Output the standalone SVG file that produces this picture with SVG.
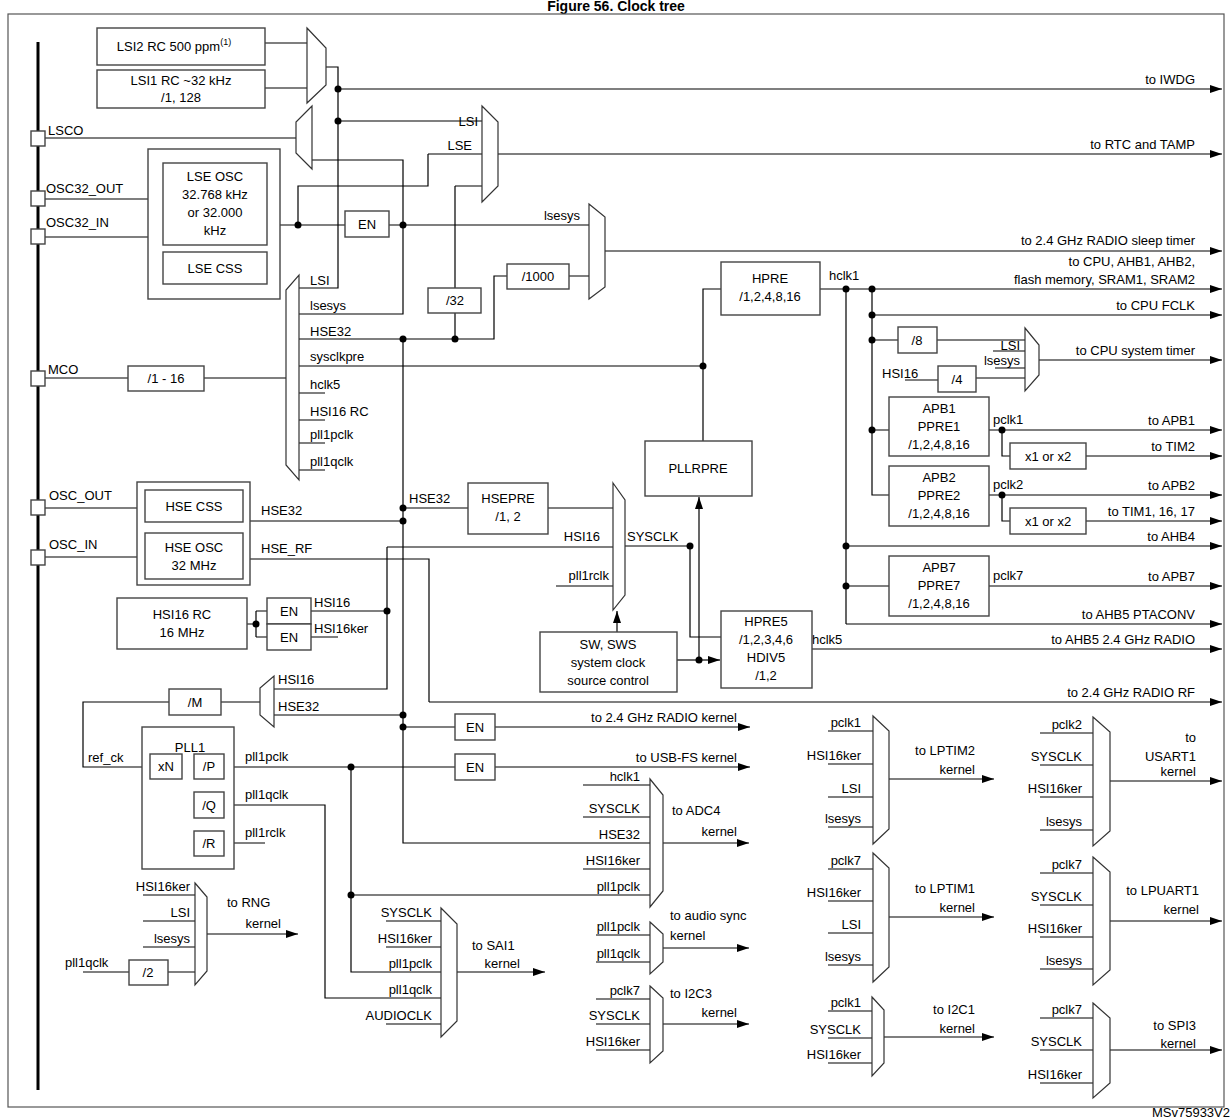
<svg xmlns="http://www.w3.org/2000/svg" width="1232" height="1120" viewBox="0 0 1232 1120">
<defs>
<marker id="ar" viewBox="0 0 12 8" refX="12" refY="4" markerWidth="12" markerHeight="8" markerUnits="userSpaceOnUse" orient="auto"><path d="M0,0L12,4L0,8z" fill="#000"/></marker>
<style>
.w{stroke:#000;stroke-width:1.2;fill:none}
.a{stroke:#000;stroke-width:1.2;fill:none;marker-end:url(#ar)}
.b{stroke:#444;stroke-width:1.4;fill:#fff}
.m{stroke:#333;stroke-width:1.2;fill:#fff}
.d{fill:#000}
text{font-family:"Liberation Sans",Arial,sans-serif;font-size:13px;fill:#000}
.e{text-anchor:end}
.c{text-anchor:middle}
</style>
</defs>
<rect width="1232" height="1120" fill="#fff"/>
<text x="616" y="11" class="c" style="font-weight:bold;font-size:14px">Figure 56. Clock tree</text>
<rect x="8" y="14" width="1216" height="1093" fill="none" stroke="#555" stroke-width="1.2"/>
<line x1="38" y1="42" x2="38" y2="1090" stroke="#000" stroke-width="3"/>

<g id="connectors">
<path class="w" d="M265,43H307M265,88H307M326,67H338V288H299"/>
<path class="a" d="M338,89H1222"/>
<path class="w" d="M338,121H482M45,138H296M312,160H403V314H299M403,339V843H650"/>
<path class="w" d="M428,154H482M428,154V186H298V225M455,186H482M455,186V288M455,313V339M299,339H494V276H507M569,276H589"/>
<path class="a" d="M498,154H1222"/>
<path class="w" d="M45,199H148M45,237H148M280,225H345M389,225H589"/>
<path class="a" d="M605,251H1222"/>
<path class="w" d="M45,378H128M204,378H286M299,366H703M299,393H325M299,420H325M299,443H325M299,470H325"/>
<path class="w" d="M703,441V289H721"/>
<path class="a" d="M820,289H1222"/>
<path class="a" d="M872,315H1222"/>
<path class="w" d="M872,289V495H889M872,340H898M937,340H1025M993,351H1025M995,368H1025M905,380H938M976,378H1025M872,430H889"/>
<path class="a" d="M1039,360H1222"/>
<path class="a" d="M989,430H1222"/>
<path class="w" d="M1002,430V456H1010"/>
<path class="a" d="M1086,456H1222"/>
<path class="a" d="M989,495H1222"/>
<path class="w" d="M1002,495V521H1010"/>
<path class="a" d="M1086,521H1222"/>
<path class="w" d="M846,289V624M846,586H889"/>
<path class="a" d="M846,546H1222"/>
<path class="a" d="M989,586H1222"/>
<path class="a" d="M846,624H1222"/>
<path class="a" d="M812,649H1222"/>
<path class="w" d="M45,508H137M45,557H137M250,521H403M403,508H468M548,508H613M387,547H613M556,586H613M625,546H690V637H721"/>
<path class="w" d="M250,559H429V702"/>
<path class="a" d="M429,702H1222"/>
<path class="a" d="M617,632V611"/>
<path class="a" d="M699,660V497"/>
<path class="w" d="M677,660H699"/>
<path class="a" d="M699,660H720"/>
<path class="w" d="M247,624H256M256,611V637M256,611H267M256,637H267M311,611H387M387,547V689H274M311,637H338M403,715H274M260,702H221M169,702H83V767H150M182,767H194M188,767V843H194M188,805H194"/>
<path class="w" d="M403,727H455"/>
<path class="a" d="M495,727H750"/>
<path class="w" d="M224,767H455"/>
<path class="a" d="M495,767H750"/>
<path class="w" d="M224,805H325V998H441M224,843H265M351,767V972H441M351,895H650M583,785H650M583,817H650M583,869H650"/>
<path class="a" d="M663,843H749"/>
<path class="w" d="M143,895H195M143,921H195M143,947H195M83,972H129M168,972H195"/>
<path class="a" d="M207,934H298"/>
<path class="w" d="M386,921H441M386,947H441M386,1024H441"/>
<path class="a" d="M457,972H545"/>
<path class="w" d="M596,935H650M596,962H650"/>
<path class="a" d="M663,948H749"/>
<path class="w" d="M596,999H650M596,1024H650M596,1050H650"/>
<path class="a" d="M663,1024H749"/>
<path class="w" d="M828,731H873M828,764H873M828,797H873M828,827H873"/>
<path class="a" d="M889,779H994"/>
<path class="w" d="M1040,733H1093M1040,765H1093M1040,797H1093M1040,830H1093"/>
<path class="a" d="M1110,781H1222"/>
<path class="w" d="M828,869H873M828,901H873M828,933H873M828,965H873"/>
<path class="a" d="M889,917H994"/>
<path class="w" d="M1040,873H1093M1040,905H1093M1040,937H1093M1040,969H1093"/>
<path class="a" d="M1110,921H1222"/>
<path class="w" d="M828,1011H872M828,1038H872M828,1063H872"/>
<path class="a" d="M884,1037H994"/>
<path class="w" d="M1040,1018H1093M1040,1050H1093M1040,1083H1093"/>
<path class="a" d="M1110,1050H1222"/>
<g class="d">
<circle cx="338" cy="89" r="3.5"/><circle cx="338" cy="121" r="3.5"/><circle cx="298" cy="225" r="3.5"/><circle cx="403" cy="225" r="3.5"/>
<circle cx="403" cy="339" r="3.5"/><circle cx="455" cy="339" r="3.5"/><circle cx="703" cy="366" r="3.5"/>
<circle cx="846" cy="289" r="3.5"/><circle cx="872" cy="289" r="3.5"/><circle cx="872" cy="315" r="3.5"/><circle cx="872" cy="340" r="3.5"/><circle cx="872" cy="430" r="3.5"/>
<circle cx="1002" cy="430" r="3.5"/><circle cx="1002" cy="495" r="3.5"/><circle cx="846" cy="546" r="3.5"/><circle cx="846" cy="586" r="3.5"/>
<circle cx="403" cy="508" r="3.5"/><circle cx="403" cy="521" r="3.5"/><circle cx="690" cy="546" r="3.5"/><circle cx="699" cy="660" r="3.5"/>
<circle cx="387" cy="611" r="3.5"/><circle cx="256" cy="624" r="3.5"/><circle cx="403" cy="715" r="3.5"/><circle cx="403" cy="727" r="3.5"/>
<circle cx="188" cy="767" r="3.5"/><circle cx="188" cy="805" r="3.5"/><circle cx="351" cy="767" r="3.5"/><circle cx="351" cy="895" r="3.5"/>
</g>
<text x="1195" y="84" class="e">to IWDG</text>
<text x="1195" y="149" class="e">to RTC and TAMP</text>
<text x="1195" y="245" class="e">to 2.4 GHz RADIO sleep timer</text>
<text x="1195" y="266" class="e">to CPU, AHB1, AHB2,</text>
<text x="1195" y="284" class="e">flash memory, SRAM1, SRAM2</text>
<text x="1195" y="310" class="e">to CPU FCLK</text>
<text x="1195" y="355" class="e">to CPU system timer</text>
<text x="1195" y="425" class="e">to APB1</text>
<text x="1195" y="451" class="e">to TIM2</text>
<text x="1195" y="490" class="e">to APB2</text>
<text x="1195" y="516" class="e">to TIM1, 16, 17</text>
<text x="1195" y="541" class="e">to AHB4</text>
<text x="1195" y="581" class="e">to APB7</text>
<text x="1195" y="619" class="e">to AHB5 PTACONV</text>
<text x="1195" y="644" class="e">to AHB5 2.4 GHz RADIO</text>
<text x="1195" y="697" class="e">to 2.4 GHz RADIO RF</text>
<text x="737" y="722" class="e">to 2.4 GHz RADIO kernel</text>
<text x="737" y="762" class="e">to USB-FS kernel</text>
<text x="478" y="126" class="e">LSI</text>
<text x="472" y="150" class="e">LSE</text>
<text x="580" y="220" class="e">lsesys</text>
<text x="310" y="285">LSI</text>
<text x="310" y="310">lsesys</text>
<text x="310" y="336">HSE32</text>
<text x="310" y="361">sysclkpre</text>
<text x="310" y="389">hclk5</text>
<text x="310" y="416">HSI16 RC</text>
<text x="310" y="439">pll1pclk</text>
<text x="310" y="466">pll1qclk</text>
<text x="829" y="280">hclk1</text>
<text x="1020" y="350" class="e">LSI</text>
<text x="1020" y="365" class="e">lsesys</text>
<text x="882" y="378">HSI16</text>
<text x="993" y="424">pclk1</text>
<text x="993" y="489">pclk2</text>
<text x="993" y="580">pclk7</text>
<text x="812" y="644">hclk5</text>
<text x="261" y="515">HSE32</text>
<text x="261" y="553">HSE_RF</text>
<text x="409" y="503">HSE32</text>
<text x="600" y="541" class="e">HSI16</text>
<text x="627" y="541">SYSCLK</text>
<text x="609" y="580" class="e">pll1rclk</text>
<text x="314" y="607">HSI16</text>
<text x="314" y="633">HSI16ker</text>
<text x="278" y="684">HSI16</text>
<text x="278" y="711">HSE32</text>
<text x="88" y="762">ref_ck</text>
<text x="245" y="761">pll1pclk</text>
<text x="245" y="799">pll1qclk</text>
<text x="245" y="837">pll1rclk</text>
<text x="640" y="781" class="e">hclk1</text>
<text x="640" y="813" class="e">SYSCLK</text>
<text x="640" y="839" class="e">HSE32</text>
<text x="640" y="865" class="e">HSI16ker</text>
<text x="640" y="891" class="e">pll1pclk</text>
<text x="672" y="815">to ADC4</text>
<text x="737" y="836" class="e">kernel</text>
<text x="190" y="891" class="e">HSI16ker</text>
<text x="190" y="917" class="e">LSI</text>
<text x="190" y="943" class="e">lsesys</text>
<text x="65" y="967">pll1qclk</text>
<text x="227" y="907">to RNG</text>
<text x="281" y="928" class="e">kernel</text>
<text x="432" y="917" class="e">SYSCLK</text>
<text x="432" y="943" class="e">HSI16ker</text>
<text x="432" y="968" class="e">pll1pclk</text>
<text x="432" y="994" class="e">pll1qclk</text>
<text x="432" y="1020" class="e">AUDIOCLK</text>
<text x="472" y="950">to SAI1</text>
<text x="520" y="968" class="e">kernel</text>
<text x="640" y="931" class="e">pll1pclk</text>
<text x="640" y="958" class="e">pll1qclk</text>
<text x="670" y="920">to audio sync</text>
<text x="670" y="940">kernel</text>
<text x="640" y="995" class="e">pclk7</text>
<text x="640" y="1020" class="e">SYSCLK</text>
<text x="640" y="1046" class="e">HSI16ker</text>
<text x="670" y="998">to I2C3</text>
<text x="737" y="1017" class="e">kernel</text>
<text x="861" y="727" class="e">pclk1</text>
<text x="861" y="760" class="e">HSI16ker</text>
<text x="861" y="793" class="e">LSI</text>
<text x="861" y="823" class="e">lsesys</text>
<text x="975" y="755" class="e">to LPTIM2</text>
<text x="975" y="774" class="e">kernel</text>
<text x="1082" y="729" class="e">pclk2</text>
<text x="1082" y="761" class="e">SYSCLK</text>
<text x="1082" y="793" class="e">HSI16ker</text>
<text x="1082" y="826" class="e">lsesys</text>
<text x="1196" y="742" class="e">to</text>
<text x="1196" y="761" class="e">USART1</text>
<text x="1196" y="776" class="e">kernel</text>
<text x="861" y="865" class="e">pclk7</text>
<text x="861" y="897" class="e">HSI16ker</text>
<text x="861" y="929" class="e">LSI</text>
<text x="861" y="961" class="e">lsesys</text>
<text x="975" y="893" class="e">to LPTIM1</text>
<text x="975" y="912" class="e">kernel</text>
<text x="1082" y="869" class="e">pclk7</text>
<text x="1082" y="901" class="e">SYSCLK</text>
<text x="1082" y="933" class="e">HSI16ker</text>
<text x="1082" y="965" class="e">lsesys</text>
<text x="1199" y="895" class="e">to LPUART1</text>
<text x="1199" y="914" class="e">kernel</text>
<text x="861" y="1007" class="e">pclk1</text>
<text x="861" y="1034" class="e">SYSCLK</text>
<text x="861" y="1059" class="e">HSI16ker</text>
<text x="975" y="1014" class="e">to I2C1</text>
<text x="975" y="1033" class="e">kernel</text>
<text x="1082" y="1014" class="e">pclk7</text>
<text x="1082" y="1046" class="e">SYSCLK</text>
<text x="1082" y="1079" class="e">HSI16ker</text>
<text x="1196" y="1030" class="e">to SPI3</text>
<text x="1196" y="1048" class="e">kernel</text>
</g>

<g id="pins">
<rect class="b" x="31" y="131" width="14" height="15"/><text x="48" y="135">LSCO</text>
<rect class="b" x="31" y="191" width="14" height="15"/><text x="46" y="193">OSC32_OUT</text>
<rect class="b" x="31" y="229" width="14" height="15"/><text x="46" y="227">OSC32_IN</text>
<rect class="b" x="31" y="371" width="14" height="15"/><text x="48" y="374">MCO</text>
<rect class="b" x="31" y="500" width="14" height="15"/><text x="49" y="500">OSC_OUT</text>
<rect class="b" x="31" y="550" width="14" height="15"/><text x="49" y="549">OSC_IN</text>
</g>
<g id="lsi2"><rect class="b" x="97" y="28" width="168" height="37"/><text x="174" y="51" class="c">LSI2 RC 500 ppm<tspan dy="-6" font-size="9">(1)</tspan></text></g>
<g id="lsi1"><rect class="b" x="97" y="70" width="168" height="38"/><text x="181" y="85" class="c">LSI1 RC ~32 kHz</text><text x="181" y="102" class="c">/1, 128</text></g>
<g id="mux-lsi"><polygon class="m" points="307,28 326,48 326,85 307,103"/></g>
<g id="mux-lsco"><polygon class="m" points="312,106 312,169 296,153 296,122"/></g>
<g id="mux-rtc"><polygon class="m" points="482,106 498,122 498,186 482,202"/></g>
<g id="lse"><rect class="b" x="148" y="149" width="132" height="150"/><rect class="b" x="163" y="163" width="104" height="82"/>
<text x="215" y="181" class="c">LSE OSC</text><text x="215" y="199" class="c">32.768 kHz</text><text x="215" y="217" class="c">or 32.000</text><text x="215" y="235" class="c">kHz</text>
<rect class="b" x="163" y="252" width="104" height="32"/><text x="215" y="273" class="c">LSE CSS</text></g>
<g id="en-lse"><rect class="b" x="345" y="211" width="44" height="26"/><text x="367" y="229" class="c">EN</text></g>
<g id="div32"><rect class="b" x="428" y="288" width="53" height="25"/><text x="455" y="305" class="c">/32</text></g>
<g id="div1000"><rect class="b" x="507" y="264" width="62" height="25"/><text x="538" y="281" class="c">/1000</text></g>
<g id="mux-lsesys"><polygon class="m" points="589,204 605,217 605,287 589,299"/></g>
<g id="mux-mco"><polygon class="m" points="299,275 299,480 286,465 286,290"/></g>
<g id="mco-div"><rect class="b" x="128" y="366" width="76" height="25"/><text x="166" y="383" class="c">/1 - 16</text></g>
<g id="hpre"><rect class="b" x="721" y="262" width="99" height="53"/><text x="770" y="283" class="c">HPRE</text><text x="770" y="301" class="c">/1,2,4,8,16</text></g>
<g id="div8"><rect class="b" x="898" y="327" width="39" height="26"/><text x="917" y="345" class="c">/8</text></g>
<g id="div4"><rect class="b" x="938" y="366" width="38" height="26"/><text x="957" y="384" class="c">/4</text></g>
<g id="mux-systick"><polygon class="m" points="1025,328 1039,345 1039,375 1025,391"/></g>
<g id="apb1"><rect class="b" x="889" y="397" width="100" height="59"/><text x="939" y="413" class="c">APB1</text><text x="939" y="431" class="c">PPRE1</text><text x="939" y="449" class="c">/1,2,4,8,16</text></g>
<g id="tim2x"><rect class="b" x="1010" y="443" width="76" height="26"/><text x="1048" y="461" class="c">x1 or x2</text></g>
<g id="apb2"><rect class="b" x="889" y="466" width="100" height="60"/><text x="939" y="482" class="c">APB2</text><text x="939" y="500" class="c">PPRE2</text><text x="939" y="518" class="c">/1,2,4,8,16</text></g>
<g id="tim1x"><rect class="b" x="1010" y="508" width="76" height="26"/><text x="1048" y="526" class="c">x1 or x2</text></g>
<g id="apb7"><rect class="b" x="889" y="556" width="100" height="60"/><text x="939" y="572" class="c">APB7</text><text x="939" y="590" class="c">PPRE7</text><text x="939" y="608" class="c">/1,2,4,8,16</text></g>
<g id="pllrpre"><rect class="b" x="645" y="441" width="107" height="55"/><text x="698" y="473" class="c">PLLRPRE</text></g>
<g id="hpre5"><rect class="b" x="721" y="611" width="91" height="77"/><text x="766" y="626" class="c">HPRE5</text><text x="766" y="644" class="c">/1,2,3,4,6</text><text x="766" y="662" class="c">HDIV5</text><text x="766" y="680" class="c">/1,2</text></g>
<g id="hse"><rect class="b" x="137" y="482" width="113" height="103"/><rect class="b" x="145" y="490" width="98" height="32"/><text x="194" y="511" class="c">HSE CSS</text>
<rect class="b" x="145" y="533" width="98" height="46"/><text x="194" y="552" class="c">HSE OSC</text><text x="194" y="570" class="c">32 MHz</text></g>
<g id="hsepre"><rect class="b" x="468" y="483" width="80" height="51"/><text x="508" y="503" class="c">HSEPRE</text><text x="508" y="521" class="c">/1, 2</text></g>
<g id="mux-sysclk"><polygon class="m" points="613,483 625,500 625,595 613,610"/></g>
<g id="sw"><rect class="b" x="540" y="632" width="137" height="60"/><text x="608" y="649" class="c">SW, SWS</text><text x="608" y="667" class="c">system clock</text><text x="608" y="685" class="c">source control</text></g>
<g id="hsi16"><rect class="b" x="117" y="598" width="130" height="51"/><text x="182" y="619" class="c">HSI16 RC</text><text x="182" y="637" class="c">16 MHz</text></g>
<g id="en-hsi1"><rect class="b" x="267" y="598" width="44" height="26"/><text x="289" y="616" class="c">EN</text></g>
<g id="en-hsi2"><rect class="b" x="267" y="624" width="44" height="26"/><text x="289" y="642" class="c">EN</text></g>
<g id="mux-pll"><polygon class="m" points="274,676 274,727 260,715 260,688"/></g>
<g id="divm"><rect class="b" x="169" y="689" width="52" height="26"/><text x="195" y="707" class="c">/M</text></g>
<g id="en-radio"><rect class="b" x="455" y="714" width="40" height="26"/><text x="475" y="732" class="c">EN</text></g>
<g id="en-usb"><rect class="b" x="455" y="754" width="40" height="26"/><text x="475" y="772" class="c">EN</text></g>
<g id="pll1"><rect class="b" x="142" y="727" width="92" height="142"/><text x="190" y="752" class="c">PLL1</text>
<rect class="b" x="150" y="754" width="32" height="25"/><text x="166" y="771" class="c">xN</text>
<rect class="b" x="194" y="754" width="30" height="25"/><text x="209" y="771" class="c">/P</text>
<rect class="b" x="194" y="792" width="30" height="26"/><text x="209" y="810" class="c">/Q</text>
<rect class="b" x="194" y="831" width="30" height="25"/><text x="209" y="848" class="c">/R</text></g>
<g id="mux-adc"><polygon class="m" points="650,779 663,795 663,891 650,907"/></g>
<g id="mux-rng"><polygon class="m" points="195,883 207,897 207,971 195,985"/></g>
<g id="div2"><rect class="b" x="129" y="960" width="39" height="25"/><text x="148" y="977" class="c">/2</text></g>
<g id="mux-sai"><polygon class="m" points="441,908 457,924 457,1021 441,1037"/></g>
<g id="mux-audio"><polygon class="m" points="650,922 663,934 663,962 650,974"/></g>
<g id="mux-i2c3"><polygon class="m" points="650,986 663,998 663,1051 650,1063"/></g>
<g id="mux-lptim2"><polygon class="m" points="873,716 889,731 889,829 873,844"/></g>
<g id="mux-usart1"><polygon class="m" points="1093,717 1110,732 1110,831 1093,846"/></g>
<g id="mux-lptim1"><polygon class="m" points="873,853 889,868 889,967 873,982"/></g>
<g id="mux-lpuart1"><polygon class="m" points="1093,857 1110,872 1110,970 1093,985"/></g>
<g id="mux-i2c1"><polygon class="m" points="872,997 884,1010 884,1063 872,1076"/></g>
<g id="mux-spi3"><polygon class="m" points="1093,1003 1110,1018 1110,1083 1093,1098"/></g>
<text x="1230" y="1117" class="e">MSv75933V2</text>
</svg>
